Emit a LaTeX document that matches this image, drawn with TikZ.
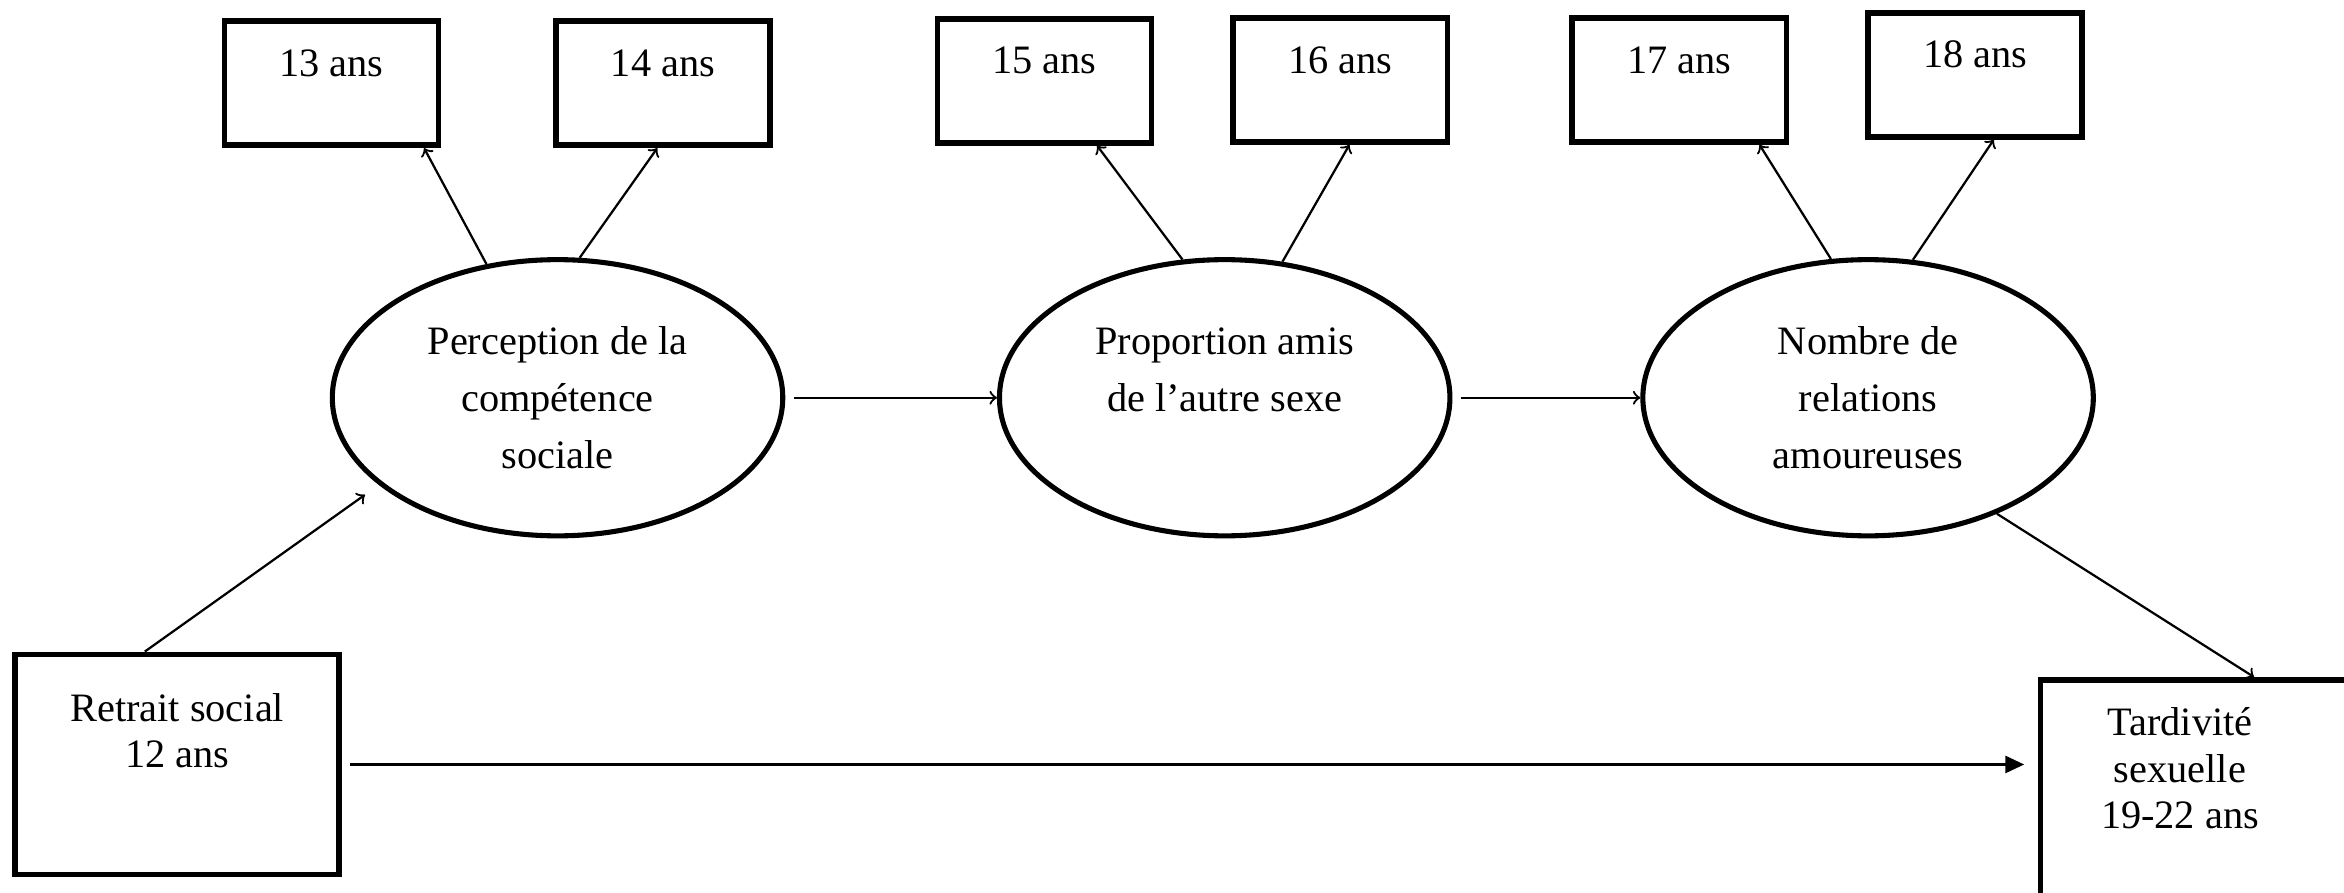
\documentclass[tikz,border=0pt]{standalone}
\usepackage{fontspec}
\setmainfont{Liberation Serif}
\usetikzlibrary{shapes,arrows.meta}

\tikzset{
  agebox/.style={draw, line width=1.9pt, minimum width=2.52cm, inner sep=0pt,
                 text height=0.65cm, text depth=0.81cm},
  bigbox/.style={draw, line width=1.9pt, inner sep=0pt},
  latent/.style={draw, ellipse, line width=1.7pt, minimum width=5.3cm,
                 minimum height=3.25cm, inner sep=0pt, align=center,
                 font=\fontsize{13.5}{19}\selectfont},
  boxtxt/.style={align=center, inner sep=0pt, font=\fontsize{13.5}{15.5}\selectfont},
  link/.style={->, line width=0.75pt}
}

\begin{document}
\begin{tikzpicture}[>=to, font=\fontsize{13.5}{15.5}\selectfont]
\useasboundingbox (0,0) rectangle (27.58,10.50);

  % mesures repetees
  \node[agebox] (a13) at (3.90,9.52)  {13 ans};
  \node[agebox] (a14) at (7.80,9.52)  {14 ans};
  \node[agebox] (a15) at (12.29,9.55) {15 ans};
  \node[agebox] (a16) at (15.77,9.56) {16 ans};
  \node[agebox] (a17) at (19.76,9.56) {17 ans};
  \node[agebox] (a18) at (23.24,9.62) {18 ans};

  % mediateurs
  \node[latent] (e1) at (6.56,5.82)  {Perception de la\\compétence\\sociale};
  \node[latent] (e2) at (14.41,5.82) {Proportion amis\\de l’autre sexe\\\mbox{}};
  \node[latent] (e3) at (21.98,5.82) {Nombre de\\relations\\amoureuses};

  % debut et fin
  \node[bigbox, minimum width=3.81cm, minimum height=2.59cm] (retrait) at (2.085,1.505) {};
  \node[boxtxt] (retraittxt) at (2.085,1.90) {Retrait social\\12 ans};
  \node[bigbox, minimum width=4.2cm, minimum height=3cm] (tard) at (26.11,1.0) {};
  \node[boxtxt] (tardtxt) at (25.65,1.46) {Tardivité\\sexuelle\\19-22 ans};

  \draw[link] (e1.118) -- (a13.-35);
  \draw[link] (e1.81)  -- (a14.-95);
  \draw[link] (e2.107) -- (a15.-51);
  \draw[link] (e2.67)  -- (a16.-82);
  \draw[link] (e3.105) -- (a17.-39);
  \draw[link] (e3.72)  -- (a18.-74);

  \draw[link, shorten <=1mm] (e1) -- (e2);
  \draw[link, shorten <=1mm] (e2) -- (e3);
  \draw[link, shorten >=2mm] (retrait.106) -- (e1.206);
  \draw[link] (e3.-42) -- (tard.75);
  \draw[line width=0.75pt, -{Triangle[length=2.2mm,width=2mm]}, shorten <=1mm, shorten >=1.6mm]
    (retrait.east) -- (retrait.east -| tard.west);
\end{tikzpicture}
\end{document}
